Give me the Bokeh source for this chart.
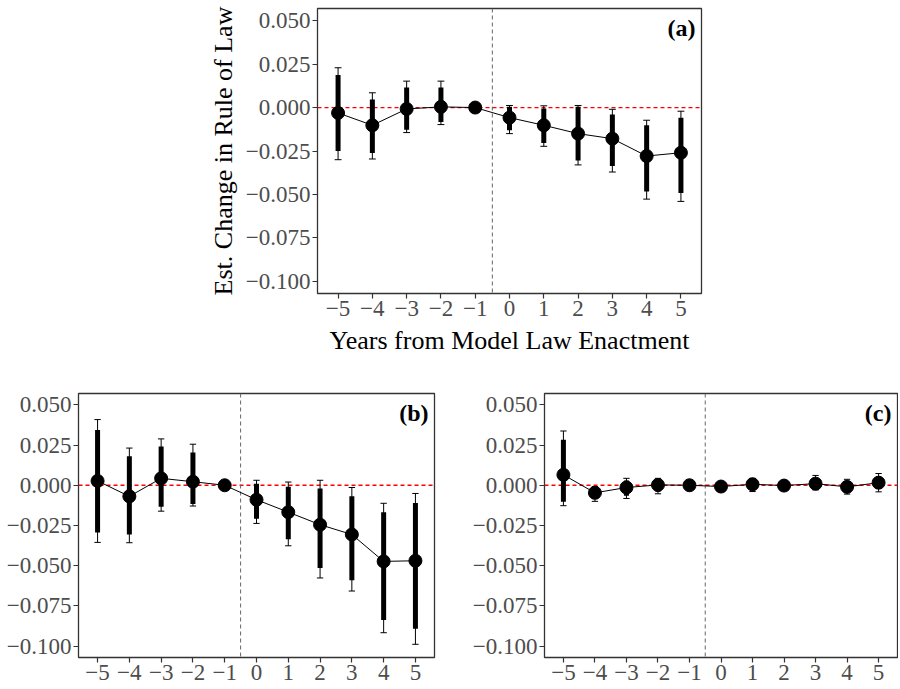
import numpy as np
from bokeh.plotting import figure
from bokeh.models import Range1d, FixedTicker, CustomJSTickFormatter, Span, Label, ColumnDataSource
from bokeh.layouts import column, row
from bokeh.embed import file_html
from bokeh.resources import INLINE

NA = float("nan")

# ---------------- data ----------------
years = [-5, -4, -3, -2, -1, 0, 1, 2, 3, 4, 5]
x_ticks = [-5, -4, -3, -2, -1, 0, 1, 2, 3, 4, 5]
y_ticks = [-0.1, -0.075, -0.05, -0.025, 0.0, 0.025, 0.05]

# panel (a)
est_a = [-0.0031, -0.0102, -0.0008, 0.0004, 0.0, -0.0058, -0.0102, -0.0150, -0.0179, -0.0279, -0.0260]
hi_in_a = [0.0187, 0.0046, 0.0115, 0.0115, NA, 0.0004, -0.0006, 0.0004, -0.0040, -0.0102, -0.0058]
lo_in_a = [-0.0250, -0.0262, -0.0127, -0.0083, NA, -0.0130, -0.0204, -0.0304, -0.0337, -0.0483, -0.0492]
hi_out_a = [0.0229, 0.0085, 0.0152, 0.0152, NA, 0.0012, 0.0010, 0.0012, -0.0010, -0.0073, -0.0021]
lo_out_a = [-0.0300, -0.0296, -0.0144, -0.0098, NA, -0.0150, -0.0223, -0.0330, -0.0371, -0.0527, -0.0540]

# panel (b)
est_b = [0.0027, -0.0069, 0.0043, 0.0022, 0.0, -0.0090, -0.0167, -0.0245, -0.0306, -0.0473, -0.0469]
hi_in_b = [0.0343, 0.0180, 0.0241, 0.0204, NA, 0.0010, -0.0010, -0.0020, -0.0069, -0.0167, -0.0110]
lo_in_b = [-0.0294, -0.0306, -0.0133, -0.0116, NA, -0.0208, -0.0335, -0.0514, -0.0590, -0.0837, -0.0892]
hi_out_b = [0.0408, 0.0231, 0.0288, 0.0255, NA, 0.0031, 0.0020, 0.0031, -0.0014, -0.0112, -0.0051]
lo_out_b = [-0.0355, -0.0357, -0.0161, -0.0129, NA, -0.0237, -0.0376, -0.0576, -0.0657, -0.0916, -0.0988]

# panel (c)
est_c = [0.0065, -0.0047, -0.0014, 0.0002, 0.0, -0.0008, 0.0006, -0.0002, 0.0010, -0.0010, 0.0016]
hi_in_c = [0.0282, -0.0020, 0.0030, 0.0033, NA, 0.0010, 0.0033, 0.0015, 0.0045, 0.0024, 0.0057]
lo_in_c = [-0.0102, -0.0086, -0.0065, -0.0040, NA, -0.0025, -0.0025, -0.0020, -0.0016, -0.0040, -0.0024]
hi_out_c = [0.0337, -0.0008, 0.0043, 0.0043, NA, 0.0018, 0.0043, 0.0020, 0.0061, 0.0037, 0.0073]
lo_out_c = [-0.0127, -0.0100, -0.0082, -0.0053, NA, -0.0035, -0.0039, -0.0025, -0.0029, -0.0055, -0.0041]

x_label = "Years from Model Law Enactment"
y_label = "Est. Change in Rule of Law"

# ---------------- styling ----------------
FONT = "Liberation Serif"
TICK_COL = "#4D4D4D"
BORDER_COL = "#333333"
CAP_HALF = 0.1

fmt_x = CustomJSTickFormatter(code="""
return (tick < -1e-12 ? "\\u2212" : "") + Math.abs(tick).toFixed(0);
""")
fmt_y = CustomJSTickFormatter(code="""
return (tick < -1e-12 ? "\\u2212" : "") + Math.abs(tick).toFixed(3);
""")


def panel(tag, est, lo_in, hi_in, lo_out, hi_out, fw, fh, bl, br, bt, bb,
          xlab=None, ylab=None):
    p = figure(frame_width=fw, frame_height=fh,
               min_border_left=bl, min_border_right=br,
               min_border_top=bt, min_border_bottom=bb,
               x_range=Range1d(-5.6, 5.6), y_range=Range1d(-0.107, 0.057),
               output_backend="svg", toolbar_location=None,
               background_fill_color="white", border_fill_color="white")
    p.grid.visible = False
    p.outline_line_color = BORDER_COL
    p.outline_line_width = 1.3
    for ax in (p.xaxis[0], p.yaxis[0]):
        ax.axis_line_color = None
        ax.major_tick_line_color = BORDER_COL
        ax.major_tick_line_width = 1.2
        ax.major_tick_out = 5
        ax.major_tick_in = 0
        ax.minor_tick_line_color = None
        ax.major_label_text_font = FONT
        ax.major_label_text_font_size = "23px"
        ax.major_label_text_color = TICK_COL
        ax.major_label_standoff = 2
        ax.axis_label_text_font = FONT
        ax.axis_label_text_font_size = "26px"
        ax.axis_label_text_font_style = "normal"
        ax.axis_label_text_color = "black"
    p.xaxis[0].formatter = fmt_x
    p.yaxis[0].formatter = fmt_y
    p.xaxis[0].ticker = FixedTicker(ticks=x_ticks)
    p.yaxis[0].ticker = FixedTicker(ticks=y_ticks)
    if xlab:
        p.xaxis[0].axis_label = xlab
        p.xaxis[0].axis_label_standoff = 7
    if ylab:
        p.yaxis[0].axis_label = ylab
        p.yaxis[0].axis_label_standoff = 5

    p.add_layout(Span(location=0, dimension="width", line_color="#FF0000",
                      line_dash="4 3", line_width=1.3, level="underlay"))
    p.add_layout(Span(location=-0.5, dimension="height", line_color="#666666",
                      line_dash="4 3", line_width=1, level="underlay"))

    xs = np.array(years, dtype=float)
    src = ColumnDataSource(dict(
        x=xs, est=np.array(est, float),
        lo_in=np.array(lo_in, float), hi_in=np.array(hi_in, float),
        lo_out=np.array(lo_out, float), hi_out=np.array(hi_out, float),
        xl=xs - CAP_HALF, xr=xs + CAP_HALF))

    p.line("x", "est", source=src, line_color="black", line_width=1)
    p.segment(x0="x", y0="lo_out", x1="x", y1="hi_out", source=src,
              line_color="black", line_width=1)
    p.segment(x0="xl", y0="lo_out", x1="xr", y1="lo_out", source=src,
              line_color="black", line_width=1)
    p.segment(x0="xl", y0="hi_out", x1="xr", y1="hi_out", source=src,
              line_color="black", line_width=1)
    p.segment(x0="x", y0="lo_in", x1="x", y1="hi_in", source=src,
              line_color="black", line_width=5)
    p.scatter("x", "est", source=src, size=13, color="black")

    p.add_layout(Label(x=p.x_range.end, y=p.y_range.end, text=tag,
                       x_offset=-6, y_offset=-6,
                       text_align="right", text_baseline="top",
                       text_font=FONT, text_font_size="24px",
                       text_font_style="bold", text_color="black"))
    return p


pa = panel("(a)", est_a, lo_in_a, hi_in_a, lo_out_a, hi_out_a,
           fw=384, fh=285, bl=317, br=10, bt=8, bb=99, xlab=x_label, ylab=y_label)
pb = panel("(b)", est_b, lo_in_b, hi_in_b, lo_out_b, hi_out_b,
           fw=356, fh=264, bl=78, br=34, bt=1, bb=32)
pc = panel("(c)", est_c, lo_in_c, hi_in_c, lo_out_c, hi_out_c,
           fw=353, fh=264, bl=76, br=1, bt=1, bb=32)

layout = column(pa, row(pb, pc))

with open("out.html", "w") as f:
    f.write(file_html(layout, INLINE))
